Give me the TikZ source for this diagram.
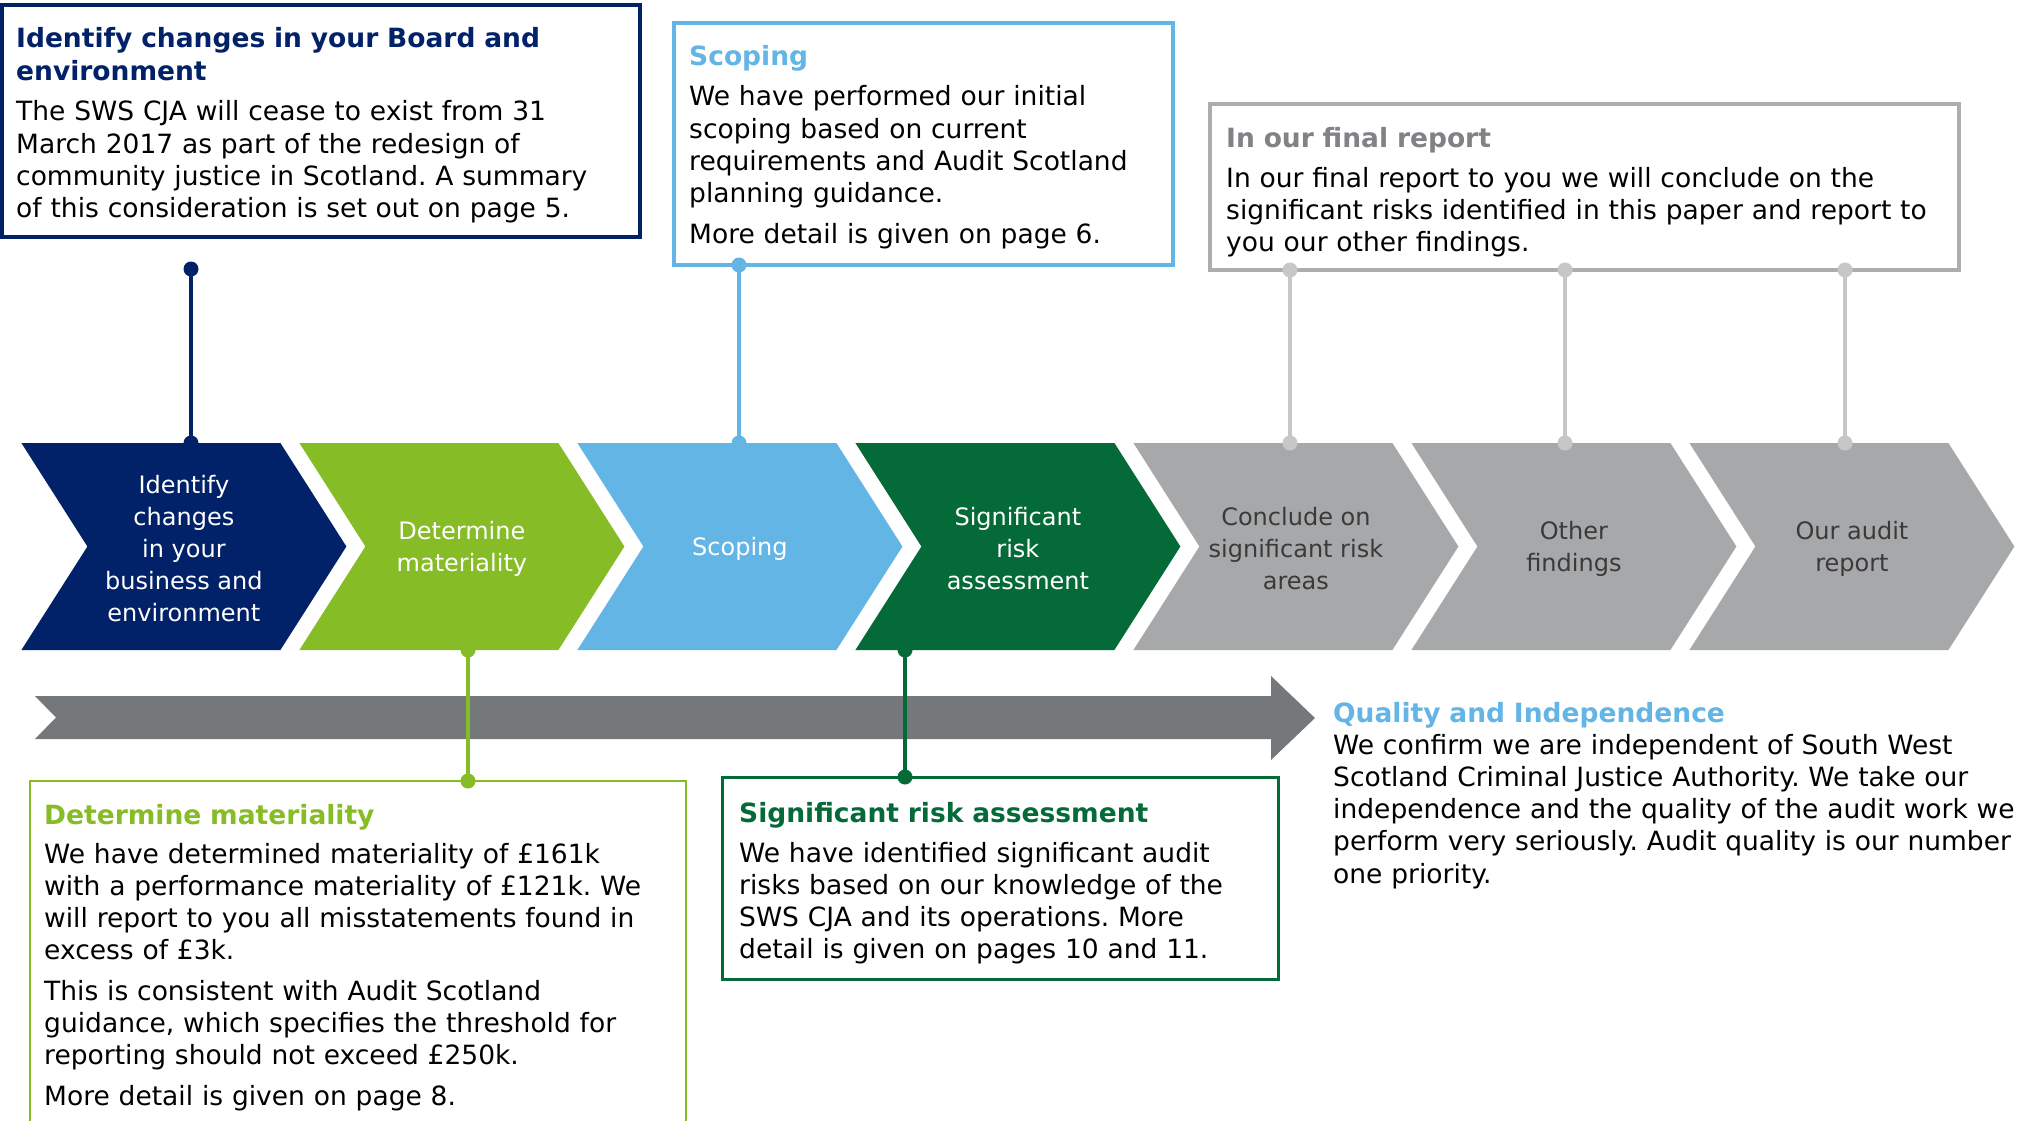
\documentclass[tikz,border=0pt]{standalone}
\usepackage{fontspec}
\setmainfont{DejaVu Sans}
\frenchspacing
\definecolor{navy}{HTML}{012169}
\definecolor{lgreen}{HTML}{86BC25}
\definecolor{lblue}{HTML}{62B5E5}
\definecolor{dgreen}{HTML}{046A38}
\definecolor{chgrey}{HTML}{A7A8AA}
\definecolor{chtext}{HTML}{3A3A3A}
\definecolor{arrgrey}{HTML}{75787B}
\definecolor{boxgrey}{HTML}{ACADAF}
\definecolor{ttlgrey}{HTML}{808285}
\definecolor{conngrey}{HTML}{C6C7C8}
\begin{document}
\begin{tikzpicture}[x=1pt,y=-1pt,
  body/.style={anchor=base west, inner sep=0, text width=1000pt, align=left,
    font=\fontsize{26.5}{32.3}\selectfont, text=black},
  ttl/.style={anchor=base west, inner sep=0, text width=1000pt, align=left,
    font=\bfseries\fontsize{26.5}{32.3}\selectfont},
  chevtxt/.style={anchor=center, inner sep=0, align=center,
    font=\fontsize{24}{32}\selectfont},
  frame/.style={line width=3.5pt},
  conn/.style={line width=3.2pt},
]
\fill[white] (0,0) rectangle (2040,1121);
\useasboundingbox (0,0) rectangle (2040,1121);

% ---------- boxes ----------
\draw[frame, navy] (2,5) rectangle (640,237);
\node[inner sep=0] (b1) at (321,121) {};
\draw[frame, lblue] (674,23) rectangle (1173,265);
\node[inner sep=0] (b2) at (923,144) {};
\draw[frame, boxgrey] (1210,104) rectangle (1959,270);
\node[inner sep=0] (b3) at (1585,187) {};
\draw[frame, dgreen, line width=3pt] (722,777) rectangle (1278,979);
\node[inner sep=0] (b4) at (1000,878) {};
\draw[lgreen, line width=2pt] (30,1130) -- (30,781) -- (686,781) -- (686,1130);
\node[inner sep=0] (b5) at (358,950) {};

% ---------- big arrow ----------
\fill[arrgrey] (35,696) -- (1271,696) -- (1271,676) -- (1315,718) -- (1271,760)
  -- (1271,739) -- (35,739) -- (56,717.5) -- cycle;

% ---------- connector coordinates ----------
\coordinate (n1a) at (191,269);
\coordinate (n1b) at (191,443);
\coordinate (s1a) at (739,265);
\coordinate (s1b) at (739,443);
\coordinate (g1a) at (1290,270);
\coordinate (g1b) at (1290,443);
\coordinate (g2a) at (1565,270);
\coordinate (g2b) at (1565,443);
\coordinate (g3a) at (1845,270);
\coordinate (g3b) at (1845,443);
\coordinate (m1a) at (468,650);
\coordinate (m1b) at (468,781);
\coordinate (r1a) at (905,650);
\coordinate (r1b) at (905,777);

\draw[conn, navy] (n1a) -- (n1b);
\draw[conn, lblue] (s1a) -- (s1b);
\draw[conn, conngrey] (g1a) -- (g1b);
\draw[conn, conngrey] (g2a) -- (g2b);
\draw[conn, conngrey] (g3a) -- (g3b);
\draw[conn, lgreen] (m1a) -- (m1b);
\draw[conn, dgreen] (r1a) -- (r1b);

% ---------- chevrons ----------
\foreach \col/\tcol/\txt [count=\n from 0] in {
  navy/white/{Identify\\changes\\in your\\business and\\environment},
  lgreen/white/{Determine\\materiality},
  lblue/white/{Scoping},
  dgreen/white/{Significant\\risk\\assessment},
  chgrey/chtext/{Conclude on\\significant risk\\areas},
  chgrey/chtext/{Other\\findings},
  chgrey/chtext/{Our audit\\report}} {
  \pgfmathsetmacro\xl{21.4+278*\n}
  \fill[\col] (\xl,443) -- ++(259,0) -- ++(66,103.5) -- ++(-66,103.5)
     -- ++(-259,0) -- ++(66,-103.5) -- cycle;
  \node[chevtxt, text=\tcol] (c\n) at (\xl+162.5,549) {\txt};
}

% ---------- dots ----------
\foreach \p/\col in {n1a/navy,n1b/navy,s1a/lblue,s1b/lblue,g1a/conngrey,g1b/conngrey,
  g2a/conngrey,g2b/conngrey,g3a/conngrey,g3b/conngrey,m1a/lgreen,m1b/lgreen,r1a/dgreen,r1b/dgreen}
  \fill[\col] (\p) circle (7.5pt);

% ---------- texts ----------
\node[ttl, text=navy] (t1) at (16,48) {Identify changes in your Board and\\environment};
\node[body] (x1) at (16,121) {The SWS CJA will cease to exist from 31\\March 2017 as part of the redesign of\\community justice in Scotland. A summary\\of this consideration is set out on page 5.};

\node[ttl, text=lblue] (t2) at (689,66) {Scoping};
\node[body] (x2) at (689,106) {We have performed our initial\\scoping based on current\\requirements and Audit Scotland\\planning guidance.\\[8pt]More detail is given on page 6.};

\node[ttl, text=ttlgrey] (t3) at (1226,147) {In our final report};
\node[body] (x3) at (1226,187) {In our final report to you we will conclude on the\\significant risks identified in this paper and report to\\you our other findings.};

\node[ttl, text=lgreen] (t5) at (44,824) {Determine materiality};
\node[body] (x5) at (44,863) {We have determined materiality of £161k\\with a performance materiality of £121k. We\\will report to you all misstatements found in\\excess of £3k.\\[8pt]This is consistent with Audit Scotland\\guidance, which specifies the threshold for\\reporting should not exceed £250k.\\[8pt]More detail is given on page 8.};

\node[ttl, text=dgreen] (t4) at (739,822) {Significant risk assessment};
\node[body] (x4) at (739,862) {We have identified significant audit\\risks based on our knowledge of the\\SWS CJA and its operations. More\\detail is given on pages 10 and 11.};

\node[ttl, text=lblue] (tq) at (1333,722) {Quality and Independence};
\node[body] (xq) at (1333,754) {We confirm we are independent of South West\\Scotland Criminal Justice Authority. We take our\\independence and the quality of the audit work we\\perform very seriously. Audit quality is our number\\one priority.};
\end{tikzpicture}
\end{document}
